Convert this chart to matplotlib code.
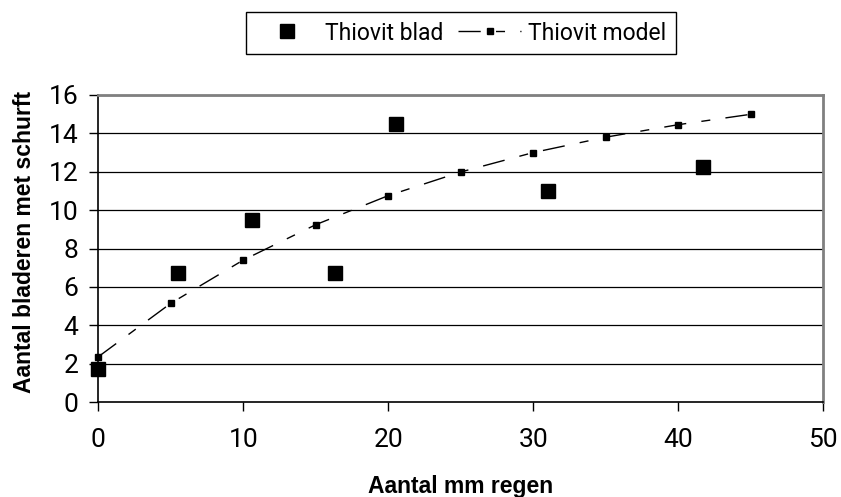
import matplotlib
matplotlib.use("Agg")
import matplotlib.pyplot as plt

blad_x = [0, 5.5, 10.6, 16.3, 20.5, 31.0, 41.7]
blad_y = [1.75, 6.75, 9.5, 6.75, 14.5, 11.0, 12.25]
model_x = [0, 5, 10, 15, 20, 25, 30, 35, 40, 45]
model_y = [2.37, 5.15, 7.40, 9.24, 10.75, 11.98, 12.99, 13.79, 14.44, 14.98]
xticks = [0, 10, 20, 30, 40, 50]
yticks = [0, 2, 4, 6, 8, 10, 12, 14, 16]

tickfam = ["Roboto", "DejaVu Sans"]

fig = plt.figure(figsize=(8.41, 4.97), dpi=100)
ax = fig.add_axes([0.1169, 0.1905, 0.862, 0.619])

for y in yticks[1:]:
    ax.axhline(y, color="#000000", lw=0.9, zorder=1)

model_line, = ax.plot(model_x, model_y, color="black", lw=1.0,
                      dashes=(16, 11, 6.5, 11), marker="s", markersize=4.5,
                      label="Thiovit model", zorder=3, clip_on=False)
blad_line, = ax.plot(blad_x, blad_y, ls="none", marker="s", markersize=10.5,
                     color="black", label="Thiovit blad", zorder=4, clip_on=False)

ax.set_xlim(0, 50)
ax.set_ylim(0, 16)
ax.set_xticks(xticks)
ax.set_yticks(yticks)
ax.set_xticklabels([str(v) for v in xticks], fontsize=19, family=tickfam)
ax.set_yticklabels([str(v) for v in yticks], fontsize=19, family=tickfam)
ax.tick_params(axis="x", direction="out", length=6.5, width=1, pad=12)
ax.tick_params(axis="y", direction="out", length=6.5, width=1, pad=8)

for s in ["top", "right"]:
    ax.spines[s].set_color("#808080")
    ax.spines[s].set_linewidth(2)
for s in ["left", "bottom"]:
    ax.spines[s].set_color("black")
    ax.spines[s].set_linewidth(1.2)

ax.set_xlabel("Aantal mm regen", fontsize=16.5, fontweight="bold",
              family=["Liberation Sans"])
ax.set_ylabel("Aantal bladeren met schurft", fontsize=16.5, fontweight="bold",
              family=["Liberation Sans"])
ax.xaxis.set_label_coords(0.5003, -0.236)
ax.yaxis.set_label_coords(-0.1025, 0.52)
ax.yaxis.label.set_verticalalignment("center")

leg = fig.legend(handles=[blad_line, model_line], loc="center",
                 bbox_to_anchor=(0.548, 0.9336), ncol=2, frameon=True,
                 fancybox=False, edgecolor="black", framealpha=1,
                 prop=dict(family=tickfam, size=16.5),
                 handlelength=2.75, columnspacing=0.65, handletextpad=0.3,
                 borderpad=0.4)
leg.get_frame().set_linewidth(1.0)

fig.savefig("out.png", dpi=100)
